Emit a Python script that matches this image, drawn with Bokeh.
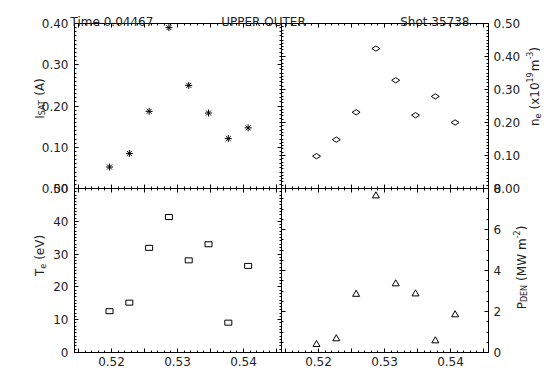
import math
from bokeh.plotting import figure
from bokeh.models import (Range1d, LinearAxis, SingleIntervalTicker, FixedTicker,
                          PrintfTickFormatter, Label)
from bokeh.embed import file_html
from bokeh.resources import INLINE

# ---------------- data ----------------
r_major = [0.5197, 0.5227, 0.5257, 0.5287, 0.5317, 0.5347, 0.5377, 0.5407]
isat = [0.052, 0.085, 0.187, 0.390, 0.250, 0.183, 0.121, 0.147]
ne = [0.098, 0.148, 0.231, 0.424, 0.328, 0.222, 0.279, 0.200]
te = [12.6, 15.2, 31.9, 41.3, 28.1, 33.0, 9.1, 26.4]
pden = [0.39, 0.67, 2.84, 7.64, 3.35, 2.86, 0.57, 1.84]
x_labels = [0.52, 0.53, 0.54]
x_lim = (0.514394, 0.545758)
isat_lim = (0.0, 0.4)
ne_lim = (0.0, 0.5)
te_lim = (0.0, 50.0)
pden_lim = (0.0, 8.0)
title_left = "Time 0.04467"
title_mid = "UPPER OUTER"
title_right = "Shot 35738"

# ---------------- layout (pixels) ----------------
W, H = 548, 368
X0, XM, X1 = 74, 281, 488       # panel columns
Y0, YM, Y1 = 23, 188, 352       # panel rows (from top)
FONT = "DejaVu Sans"
TC = "#222222"
FS = 12

p = figure(width=W, height=H, output_backend="svg", toolbar_location=None,
           x_axis_location=None, y_axis_location=None,
           x_range=Range1d(0, W), y_range=Range1d(H, 0),
           min_border_left=0, min_border_right=0, min_border_top=0, min_border_bottom=0)
p.outline_line_color = None
p.background_fill_color = "white"
p.border_fill_color = "white"
p.xgrid.visible = False
p.ygrid.visible = False


def xrange_for(lim, px_left, px_right):
    lo, hi = lim
    k = (hi - lo) / (px_right - px_left)
    return Range1d(lo - px_left * k, lo + (W - px_left) * k)


def yrange_for(lim, px_top, px_bottom):
    lo, hi = lim
    k = (hi - lo) / (px_bottom - px_top)
    return Range1d(lo - (H - px_bottom) * k, lo + px_bottom * k)


p.extra_x_ranges = {"xl": xrange_for(x_lim, X0, XM), "xr": xrange_for(x_lim, XM, X1)}
p.extra_y_ranges = {
    "isat": yrange_for(isat_lim, Y0, YM), "ne": yrange_for(ne_lim, Y0, YM),
    "te": yrange_for(te_lim, YM, Y1), "pden": yrange_for(pden_lim, YM, Y1),
}


def style(ax, tin=4, tout=0, labels=False):
    ax.major_tick_in = tin
    ax.major_tick_out = tout
    ax.minor_tick_in = tin // 2
    ax.minor_tick_out = tout // 2
    ax.axis_line_color = "black"
    ax.major_tick_line_color = "black"
    ax.minor_tick_line_color = "black"
    ax.axis_line_width = 1
    if labels:
        ax.major_label_text_font = FONT
        ax.major_label_text_font_size = f"{FS}px"
        ax.major_label_text_color = TC
    else:
        ax.major_label_text_color = None


# horizontal axes (x ticks)
for xname in ("xl", "xr"):
    for side, yname, loc, tin, tout in (("below", "te", te_lim[0], 4, 0),
                                        ("below", "te", te_lim[1], 4, 4),
                                        ("above", "isat", isat_lim[1], 4, 0)):
        ax = LinearAxis(x_range_name=xname, y_range_name=yname, fixed_location=loc,
                        bounds=x_lim, ticker=SingleIntervalTicker(interval=0.005, num_minor_ticks=5))
        style(ax, tin, tout)
        p.add_layout(ax, side)
    lab = LinearAxis(x_range_name=xname, y_range_name="te", fixed_location=te_lim[0],
                     bounds=x_lim, ticker=FixedTicker(ticks=x_labels, minor_ticks=[]),
                     formatter=PrintfTickFormatter(format="%.2f"))
    style(lab, 0, 0, labels=True)
    lab.axis_line_color = None
    lab.major_label_standoff = 4
    p.add_layout(lab, "below")


# vertical axes
def yaxis(yname, lim, interval, nminor, fmt, side, xname, loc, labels):
    ax = LinearAxis(x_range_name=xname, y_range_name=yname, fixed_location=loc, bounds=lim,
                    ticker=SingleIntervalTicker(interval=interval, num_minor_ticks=nminor),
                    formatter=PrintfTickFormatter(format=fmt))
    style(ax, 4, 0, labels=labels)
    ax.major_label_standoff = 6 if side == "left" else 5
    p.add_layout(ax, side)


yaxis("isat", isat_lim, 0.1, 10, "%.2f", "left", "xl", x_lim[0], True)
yaxis("isat", isat_lim, 0.1, 10, "%.2f", "right", "xl", x_lim[1], False)
yaxis("ne", ne_lim, 0.1, 10, "%.2f", "left", "xr", x_lim[0], False)
yaxis("ne", ne_lim, 0.1, 10, "%.2f", "right", "xr", x_lim[1], True)
yaxis("te", te_lim, 10, 10, "%d", "left", "xl", x_lim[0], True)
yaxis("te", te_lim, 10, 10, "%d", "right", "xl", x_lim[1], False)
yaxis("pden", pden_lim, 2, 4, "%d", "left", "xr", x_lim[0], False)
yaxis("pden", pden_lim, 2, 4, "%d", "right", "xr", x_lim[1], True)

# ---------------- data marks ----------------
p.scatter(r_major, isat, marker="asterisk", size=7, line_color="black",
          x_range_name="xl", y_range_name="isat")
p.scatter(r_major, ne, marker="diamond", size=8, angle=math.pi / 2, line_color="black",
          fill_color=None, x_range_name="xr", y_range_name="ne")
p.rect(r_major, te, width=7, height=5, width_units="screen", height_units="screen",
       line_color="black", fill_color=None, x_range_name="xl", y_range_name="te")
p.scatter(r_major, pden, marker="triangle", size=7, line_color="black",
          fill_color=None, x_range_name="xr", y_range_name="pden")


# ---------------- texts ----------------
def lab(x, y, text, align="left", size=FS, angle=0.0):
    p.add_layout(Label(x=x, y=y, text=text,
                       text_font=FONT, text_font_size=f"{size}px", text_color=TC,
                       text_align=align, text_baseline="alphabetic", angle=angle))


lab(70, 21.5, title_left, "left")
lab(263, 21.5, title_mid, "center")
lab(469, 21.5, title_right, "right")

CW = {"I": .295, "S": .635, "A": .684, "T": .611, "(": .39, ")": .39, "e": .615, "V": .684,
      "n": .634, "x": .592, "m": .974, "-": .361, "M": .863, "W": .989, "P": .603,
      "D": .77, "E": .632, "N": .748}


def tw(s, size):
    return sum(CW.get(c, .636) for c in s) * size


def vlabel(xb, yc, segs):
    total = sum(tw(t, s) + g for t, s, sh, g in segs)
    y = yc + total / 2
    for t, s, sh, g in segs:
        y -= g
        lab(xb + sh, y, t, "left", s, math.pi / 2)
        y -= tw(t, s)


vlabel(39, 98, [("I", 12, 0, 0), ("SAT", 8, 3, 0), ("(A)", 12, 0, 4)])
vlabel(39, 255, [("T", 12, 0, 0), ("e", 8, 3, 0), ("(eV)", 12, 0, 4)])
vlabel(534, 86, [("n", 12, 0, 0), ("e", 8, 3, 0), ("(x10", 12, 0, 4), ("19", 8, -5, 0),
                 ("m", 12, 0, 1), ("-3", 8, -5, 0), (")", 12, 0, 0)])
vlabel(521, 267, [("P", 12, 0, 0), ("DEN", 8, 3, 0), ("(MW", 12, 0, 4), ("m", 12, 0, 4),
                  ("-2", 8, -5, 0), (")", 12, 0, 0)])

open("out.html", "w").write(file_html(p, INLINE))
